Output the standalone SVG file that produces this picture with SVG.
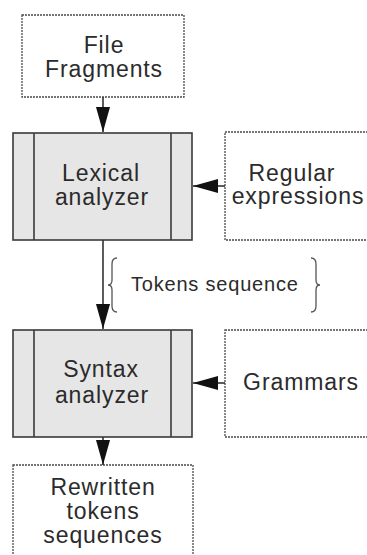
<svg xmlns="http://www.w3.org/2000/svg" width="367" height="555" viewBox="0 0 367 555">
  <style>
    .lbl { font-family: "Liberation Sans", Arial, sans-serif; font-size: 23px; letter-spacing: 0.9px; fill: #2b2b2b; text-anchor: middle; }
    .note { font-family: "Liberation Sans", Arial, sans-serif; font-size: 20px; letter-spacing: 0.8px; fill: #2b2b2b; }
    .dash { fill: #ffffff; stroke: #4a4a4a; stroke-width: 1.3; stroke-dasharray: 2 1; }
    .proc { fill: #e6e6e6; stroke: #3a3a3a; stroke-width: 1.6; }
    .bar { stroke: #3a3a3a; stroke-width: 1.6; }
    .wire { stroke: #333333; stroke-width: 1.6; fill: none; }
    .brace { stroke: #555555; stroke-width: 1.3; fill: none; }
  </style>
  <defs>
    <marker id="head" viewBox="0 0 25 14" refX="25" refY="7" markerWidth="25" markerHeight="14" markerUnits="userSpaceOnUse" orient="auto">
      <path d="M0,0 L25,7 L0,14 Z" fill="#111111"/>
    </marker>
  </defs>

  <rect width="367" height="555" fill="#ffffff"/>

  <g id="file-fragments">
    <rect class="dash" x="22" y="15" width="162" height="82"/>
    <text class="lbl" x="104" y="53">File</text>
    <text class="lbl" x="104" y="77">Fragments</text>
  </g>

  <g id="lexical-analyzer">
    <rect class="proc" x="13" y="133" width="179" height="107"/>
    <line class="bar" x1="34" y1="133" x2="34" y2="240"/>
    <line class="bar" x1="171" y1="133" x2="171" y2="240"/>
    <text class="lbl" x="101" y="181">Lexical</text>
    <text class="lbl" x="102" y="205">analyzer</text>
  </g>

  <g id="regular-expressions">
    <rect class="dash" x="225" y="132" width="150" height="108"/>
    <text class="lbl" x="292" y="181">Regular</text>
    <text class="lbl" x="298" y="204">expressions</text>
  </g>

  <g id="tokens-sequence">
    <path class="brace" d="M117,258 Q112,258 112,264 L112,280 Q112,285 108,285 Q112,285 112,290 L112,306 Q112,312 117,312"/>
    <text class="note" x="131" y="291">Tokens sequence</text>
    <path class="brace" d="M311,258 Q316,258 316,264 L316,280 Q316,285 320,285 Q316,285 316,290 L316,306 Q316,312 311,312"/>
  </g>

  <g id="syntax-analyzer">
    <rect class="proc" x="13" y="330" width="179" height="107"/>
    <line class="bar" x1="34" y1="330" x2="34" y2="437"/>
    <line class="bar" x1="171" y1="330" x2="171" y2="437"/>
    <text class="lbl" x="101" y="377">Syntax</text>
    <text class="lbl" x="102" y="403">analyzer</text>
  </g>

  <g id="grammars">
    <rect class="dash" x="225" y="330" width="150" height="107"/>
    <text class="lbl" x="301" y="390">Grammars</text>
  </g>

  <g id="rewritten-tokens">
    <rect class="dash" x="13" y="465" width="180" height="100"/>
    <text class="lbl" x="103" y="495">Rewritten</text>
    <text class="lbl" x="103" y="519">tokens</text>
    <text class="lbl" x="103" y="543">sequences</text>
  </g>

  <g id="connectors">
    <line class="wire" x1="103" y1="97" x2="103" y2="132" marker-end="url(#head)"/>
    <line class="wire" x1="225" y1="186" x2="193" y2="186" marker-end="url(#head)"/>
    <line class="wire" x1="103" y1="240" x2="103" y2="329" marker-end="url(#head)"/>
    <line class="wire" x1="225" y1="383" x2="193" y2="383" marker-end="url(#head)"/>
    <line class="wire" x1="103" y1="437" x2="103" y2="465" marker-end="url(#head)"/>
  </g>
</svg>
